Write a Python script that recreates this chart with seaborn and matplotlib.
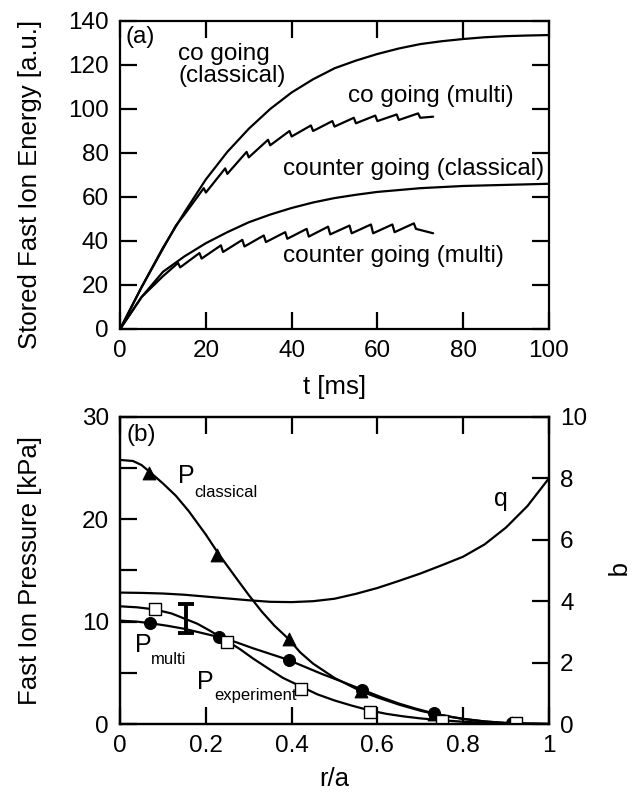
import numpy as np
import pandas as pd
import seaborn as sns
import matplotlib.pyplot as plt

# ============================================================
# (a) stored fast ion energy vs time
# ============================================================
t_co_cl = [0, 5, 10, 15, 20, 25, 30, 35, 40, 45, 50, 55, 60, 65, 70, 75, 80, 85, 90, 95, 100]
w_co_cl = [0, 19, 37, 53, 68, 80.5, 91, 100, 107.5, 113.5, 118.5, 122, 125, 127.5, 129.5,
           130.8, 131.8, 132.6, 133.1, 133.4, 133.6]

t_co_mu = [0, 5, 10, 13, 15, 19.5, 20, 24.5, 25, 29.5, 30, 34.5, 35, 39.5, 40, 44.5, 45,
           49.5, 50, 54.5, 55, 59.5, 60, 64.5, 65, 69.5, 70, 73]
w_co_mu = [0, 19, 36.5, 47, 52, 64, 62, 73, 70.5, 80.5, 78, 86, 83.5, 90, 87.5, 92.5, 90,
           94.5, 92, 96, 93.5, 97, 94.5, 97.5, 95, 98, 96, 96.5]

t_ct_cl = [0, 5, 10, 15, 20, 25, 30, 35, 40, 45, 50, 55, 60, 70, 80, 90, 100]
w_ct_cl = [0, 14.5, 26, 33, 39, 44, 48.5, 52, 55, 57.5, 59.5, 61, 62.3, 64, 65, 65.5, 66]

t_ct_mu = [0, 5, 10, 13.5, 14, 18.5, 19, 23.5, 24, 28.5, 29, 33.5, 34, 38.5, 39, 43.5, 44,
           48.5, 49, 53.5, 54, 58.5, 59, 63.5, 64, 68.5, 69, 70, 73]
w_ct_mu = [0, 14.5, 24, 30, 28, 34.5, 32, 38, 35, 40.5, 37.5, 42.5, 39.5, 44, 41, 45.5, 42,
           46.5, 43, 47, 43.5, 47.5, 43.5, 47.5, 44, 48, 45.5, 45, 43.5]

# ============================================================
# (b) fast ion pressure profiles and q profile
# ============================================================
r_cl_line = [0, 0.03, 0.05, 0.07, 0.1, 0.13, 0.16, 0.2, 0.23, 0.27, 0.3, 0.33, 0.36, 0.393,
             0.42, 0.45, 0.5, 0.562, 0.6, 0.65, 0.7, 0.731, 0.8, 0.85, 0.9, 0.95, 1.0]
p_cl_line = [25.8, 25.7, 25.3, 24.6, 23.5, 22.3, 20.8, 18.5, 16.6, 14.3, 12.6, 11.0, 9.6, 8.3,
             7.0, 5.9, 4.5, 3.2, 2.6, 1.9, 1.3, 1.0, 0.5, 0.25, 0.1, 0.03, 0.0]
r_cl_pts = [0.068, 0.227, 0.393, 0.562, 0.731, 0.914]
p_cl_pts = [24.5, 16.5, 8.3, 3.2, 1.0, 0.07]

r_mu_line = [0, 0.04, 0.07, 0.11, 0.15, 0.19, 0.23, 0.27, 0.31, 0.35, 0.39, 0.43, 0.47, 0.52,
             0.565, 0.61, 0.65, 0.69, 0.73, 0.77, 0.8, 0.85, 0.9, 0.95, 1.0]
p_mu_line = [10.1, 10.0, 9.85, 9.6, 9.3, 8.9, 8.5, 8.0, 7.4, 6.85, 6.3, 5.6, 4.9, 4.1,
             3.35, 2.6, 2.0, 1.5, 1.05, 0.7, 0.5, 0.25, 0.1, 0.03, 0.0]
r_mu_pts = [0.07, 0.23, 0.394, 0.564, 0.731, 0.914]
p_mu_pts = [9.9, 8.5, 6.3, 3.35, 1.05, 0.07]

r_ex_line = [0, 0.04, 0.08, 0.12, 0.15, 0.18, 0.21, 0.25, 0.28, 0.31, 0.35, 0.38, 0.42, 0.46,
             0.5, 0.54, 0.58, 0.62, 0.66, 0.7, 0.75, 0.8, 0.85, 0.9, 1.0]
p_ex_line = [11.5, 11.4, 11.2, 10.8, 10.3, 9.8, 9.1, 8.1, 7.3, 6.4, 5.3, 4.5, 3.7, 2.9,
             2.3, 1.8, 1.35, 1.0, 0.75, 0.55, 0.37, 0.22, 0.12, 0.05, 0.0]
r_ex_pts = [0.082, 0.25, 0.422, 0.582, 0.751, 0.924]
p_ex_pts = [11.2, 8.05, 3.45, 1.15, 0.33, 0.07]

r_q = [0, 0.05, 0.1, 0.15, 0.2, 0.25, 0.3, 0.35, 0.4, 0.45, 0.5, 0.55, 0.6, 0.65, 0.7, 0.75,
       0.8, 0.85, 0.9, 0.95, 1.0]
q_val = [4.28, 4.27, 4.25, 4.21, 4.15, 4.09, 4.03, 3.98, 3.97, 4.0, 4.08, 4.24, 4.43, 4.66,
         4.9, 5.17, 5.45, 5.85, 6.4, 7.1, 8.0]

err_r = 0.154
err_lo, err_hi = 8.9, 11.75

# ============================================================
# Style
# ============================================================
sns.set_theme(style="ticks")
plt.rcParams['font.family'] = ['Liberation Sans', 'DejaVu Sans']
plt.rcParams['font.size'] = 17.5
plt.rcParams['axes.linewidth'] = 1.6
plt.rcParams['text.color'] = 'black'
plt.rcParams['axes.labelcolor'] = 'black'

fig = plt.figure(figsize=(6.39, 7.95), dpi=100)
ax1 = fig.add_axes([0.188, 0.5862, 0.671, 0.3874])
ax2 = fig.add_axes([0.188, 0.0893, 0.671, 0.3862])

line_kw = dict(color="black", linewidth=1.6, estimator=None, sort=False, legend=False)
tick_kw = dict(direction="in", length=12, width=1.6, labelsize=17.5, colors="black")

# ---- panel (a)
for tt, ww in [(t_co_cl, w_co_cl), (t_co_mu, w_co_mu), (t_ct_cl, w_ct_cl), (t_ct_mu, w_ct_mu)]:
    sns.lineplot(x=tt, y=ww, ax=ax1, **line_kw)

ax1.set_xlim(0, 100)
ax1.set_ylim(0, 140)
ax1.set_xticks(np.arange(0, 101, 20))
ax1.set_yticks(np.arange(0, 141, 20))
ax1.tick_params(axis="both", top=True, right=True, pad=8, **tick_kw)
ax1.set_xlabel("t [ms]", fontsize=18.5)
ax1.set_ylabel("Stored Fast Ion Energy [a.u.]", fontsize=18.5)
ax1.xaxis.set_label_coords(0.5, -0.15)
ax1.yaxis.set_label_coords(-0.182, 0.47)

ax1.text(1.2, 132.5, "(a)", ha="left", va="center", fontsize=17.5)
ax1.text(13.6, 120, "co going\n(classical)", ha="left", va="center", fontsize=17.5,
         linespacing=1.05)
ax1.text(53.1, 106, "co going (multi)", ha="left", va="center", fontsize=17.5)
ax1.text(37.9, 72.5, "counter going (classical)", ha="left", va="center", fontsize=17.5)
ax1.text(37.9, 33, "counter going (multi)", ha="left", va="center", fontsize=17.5)

# ---- panel (b)
ax3 = ax2.twinx()
sns.lineplot(x=r_cl_line, y=p_cl_line, ax=ax2, **line_kw)
sns.lineplot(x=r_mu_line, y=p_mu_line, ax=ax2, **line_kw)
sns.lineplot(x=r_ex_line, y=p_ex_line, ax=ax2, **line_kw)
sns.lineplot(x=r_q, y=q_val, ax=ax3, **line_kw)

sns.scatterplot(x=r_cl_pts, y=p_cl_pts, ax=ax2, marker="^", s=85, color="black",
                edgecolor="black", zorder=4, legend=False)
sns.scatterplot(x=r_mu_pts, y=p_mu_pts, ax=ax2, marker="o", s=75, color="black",
                edgecolor="black", zorder=4, legend=False)
sns.scatterplot(x=r_ex_pts, y=p_ex_pts, ax=ax2, marker="s", s=70, facecolor="white",
                edgecolor="black", linewidth=1.0, zorder=5, legend=False)

half = (err_hi - err_lo) / 2
ax2.errorbar([err_r], [(err_lo + err_hi) / 2], yerr=[[half], [half]],
             fmt="none", ecolor="black", elinewidth=2.8, capsize=6, capthick=2.8, zorder=6)

ax2.set_xlim(0, 1)
ax2.set_ylim(0, 30)
ax3.set_ylim(0, 10)
ax2.set_xticks(np.arange(0, 1.01, 0.2))
ax2.set_xticklabels(["0", "0.2", "0.4", "0.6", "0.8", "1"])
ax2.set_yticks(np.arange(0, 31, 5))
ax2.set_yticklabels(["0", "", "10", "", "20", "", "30"])
ax3.set_yticks(np.arange(0, 11, 2))
ax2.tick_params(axis="x", top=True, pad=8, **tick_kw)
ax2.tick_params(axis="y", right=False, pad=8, **tick_kw)
ax3.tick_params(axis="y", pad=8, **tick_kw)
ax2.set_xlabel("r/a", fontsize=18.5)
ax2.set_ylabel("Fast Ion Pressure [kPa]", fontsize=18.5)
ax3.set_ylabel("q", fontsize=18.5, rotation=-90)
ax2.xaxis.set_label_coords(0.5, -0.14)
ax2.yaxis.set_label_coords(-0.182, 0.5)
ax3.yaxis.set_label_coords(1.19, 0.5)

ax2.text(0.014, 28.2, "(b)", ha="left", va="center", fontsize=17.5)
ax2.text(0.154, 24.2, "P", ha="center", va="center", fontsize=18)
ax2.text(0.174, 22.6, "classical", ha="left", va="center", fontsize=12)
ax2.text(0.054, 7.75, "P", ha="center", va="center", fontsize=18)
ax2.text(0.072, 6.3, "multi", ha="left", va="center", fontsize=12)
ax2.text(0.198, 4.15, "P", ha="center", va="center", fontsize=18)
ax2.text(0.219, 2.75, "experiment", ha="left", va="center", fontsize=12)
ax2.text(0.887, 22.0, "q", ha="center", va="center", fontsize=18)

for a in (ax1, ax2, ax3):
    for s in a.spines.values():
        s.set_color("black")
        s.set_linewidth(1.6)

fig.savefig("out.png", dpi=100)
